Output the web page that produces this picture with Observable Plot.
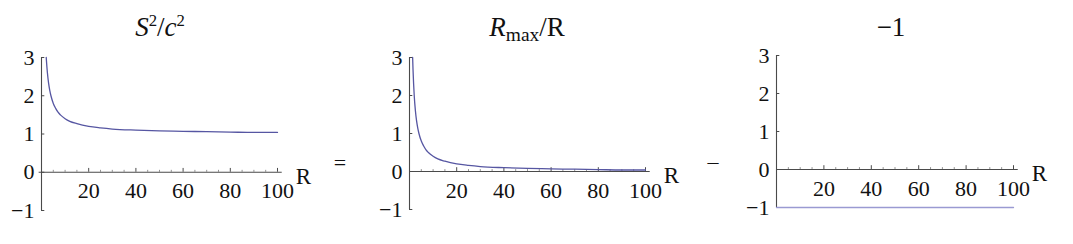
<!DOCTYPE html>
<html>
<head>
<meta charset="utf-8">
<script src="https://cdn.jsdelivr.net/npm/d3@7"></script>
<script src="https://cdn.jsdelivr.net/npm/@observablehq/plot@0.6"></script>
<style>
  body { margin: 0; background: #fff; }
  #wrap { position: relative; width: 1073px; height: 244px; overflow: hidden; font-family: 'Liberation Serif', serif; color: #111; }
  .panel { position: absolute; top: 0; }
  .panel text { font-family: 'Liberation Serif', serif !important; }
  .title { position: absolute; font-family: 'Liberation Serif', serif; font-size: 27px; transform: translateX(-50%); white-space: nowrap; line-height: 1; }
  .title sup { font-size: 0.62em; vertical-align: 0.6em; line-height: 0; }
  .title sub { font-size: 0.72em; vertical-align: -0.25em; line-height: 0; }
  .op { position: absolute; font-family: 'Liberation Serif', serif; font-size: 22px; transform: translate(-50%, -50%); line-height: 1; }
</style>
</head>
<body>
<div id="wrap"></div>
<script>
// ---- data ----
const lhsR   = [2, 2.5, 3, 3.5, 4, 5, 6, 7, 8, 10, 12, 15, 20, 25, 30, 40, 50, 60, 70, 80, 90, 100];
const lhsVal = [3, 2.6, 2.33, 2.14, 2, 1.8, 1.67, 1.57, 1.5, 1.4, 1.33, 1.27, 1.2, 1.16, 1.13, 1.1, 1.08, 1.07, 1.06, 1.05, 1.04, 1.04];

const rmaxR   = [1.33, 1.5, 2, 2.5, 3, 3.5, 4, 5, 6, 7, 8, 10, 12, 15, 20, 25, 30, 40, 50, 60, 70, 80, 90, 100];
const rmaxVal = [3, 2.67, 2, 1.6, 1.33, 1.14, 1, 0.8, 0.67, 0.57, 0.5, 0.4, 0.33, 0.27, 0.2, 0.16, 0.13, 0.1, 0.08, 0.07, 0.06, 0.05, 0.04, 0.04];

const constR   = [0, 100];
const constVal = [-1, -1];

const xTickLabels = [20, 40, 60, 80, 100];
const xMinorTicks = [5, 10, 15, 25, 30, 35, 45, 50, 55, 65, 70, 75, 85, 90, 95];
const yTickLabels = [-1, 0, 1, 2, 3];

const titles = ['<i>S</i><sup>2</sup>/<i>c</i><sup>2</sup>', '<i>R</i><sub>max</sub>/R', '\u22121'];
const operators = ['=', '\u2013'];

// ---- layout ----
const panels = [
  {left: 0,   width: 340, ml: 41, mr: 63, mt: 57, mb: 34, xs: lhsR,  ys: lhsVal,  color: "#5656a2", titleX: 160},
  {left: 360, width: 350, ml: 49, mr: 65, mt: 57, mb: 35, xs: rmaxR, ys: rmaxVal, color: "#5656a2", titleX: 527},
  {left: 715, width: 358, ml: 61, mr: 60, mt: 55, mb: 37, xs: constR, ys: constVal, color: "#9a9ad2", titleX: 891}
];
const fontFam = "Liberation Serif";
const axisColor = "#4a4a4a";
const wrap = document.getElementById("wrap");
const fmt = d => d < 0 ? "\u2212" + (-d) : String(d);

panels.forEach((p, i) => {
  const data = p.xs.map((x, j) => ({x, y: p.ys[j]}));
  const chart = Plot.plot({
    width: p.width, height: 244,
    marginLeft: p.ml, marginRight: p.mr, marginTop: p.mt, marginBottom: p.mb,
    x: {domain: [0, 100], axis: null},
    y: {domain: [-1, 3], axis: null},
    style: {background: "transparent", overflow: "visible"},
    marks: [
      Plot.ruleY([0], {x1: i === 0 ? -1 : 0, x2: 102, stroke: axisColor, strokeWidth: 1.1}),
      Plot.ruleX([0], {y1: -1, y2: 3, stroke: axisColor, strokeWidth: 1.1}),
      Plot.ruleX(xTickLabels, {x: d => d, y1: 0, y2: 0.1, stroke: axisColor}),
      Plot.ruleX(xMinorTicks, {x: d => d, y1: 0, y2: 0.05, stroke: axisColor, strokeOpacity: 0.6}),
      Plot.ruleY(yTickLabels, {y: d => d, x1: 0, x2: 1.4, stroke: axisColor}),
      Plot.line(data, {x: "x", y: "y", stroke: p.color, strokeWidth: 1.3, curve: "monotone-x"}),
      Plot.text(xTickLabels, {x: d => d, y: 0, dy: 19, text: d => fmt(d), fontSize: 22, fontFamily: fontFam, fill: "#111"}),
      Plot.text(yTickLabels, {x: 0, y: d => d, dx: -7, textAnchor: "end", text: d => fmt(d), fontSize: 22, fontFamily: fontFam, fill: "#111"}),
      Plot.text(["R"], {x: 100, y: 0, dx: 26, dy: 4, text: d => d, fontSize: 23, fontFamily: fontFam, fill: "#111"})
    ]
  });
  chart.classList.add("panel");
  chart.style.left = p.left + "px";
  wrap.appendChild(chart);

  const t = document.createElement("div");
  t.className = "title";
  t.innerHTML = titles[i];
  t.style.left = p.titleX + "px";
  t.style.top = "14px";
  wrap.appendChild(t);
});

[[340, 163], [713, 162]].forEach((pos, k) => {
  const o = document.createElement("div");
  o.className = "op";
  o.textContent = operators[k];
  o.style.left = pos[0] + "px";
  o.style.top = pos[1] + "px";
  wrap.appendChild(o);
});
</script>
</body>
</html>
